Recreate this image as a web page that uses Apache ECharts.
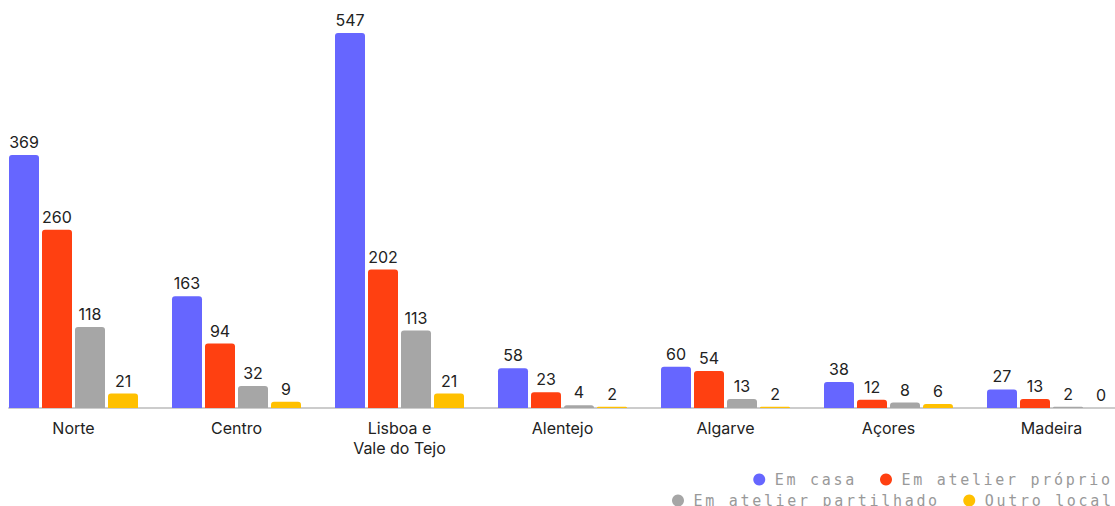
<!DOCTYPE html>
<html>
<head>
<meta charset="utf-8">
<script src="https://cdn.jsdelivr.net/npm/echarts@6/dist/echarts.min.js"></script>
<style>
  html, body { margin: 0; padding: 0; background: #fff; }
  #chart { width: 1115px; height: 506px; }
  #chart svg text[style*="Mono"], #chart svg text[font-family*="Mono"] { letter-spacing: 2.7px; }
</style>
</head>
<body>
<div id="chart"></div>
<script>
const categories = ['Norte', 'Centro', 'Lisboa e\nVale do Tejo', 'Alentejo', 'Algarve', 'Açores', 'Madeira'];
const seriesNames = ['Em casa', 'Em atelier próprio', 'Em atelier partilhado', 'Outro local'];
const emCasa = [369, 163, 547, 58, 60, 38, 27];
const emAtelierProprio = [260, 94, 202, 23, 54, 12, 13];
const emAtelierPartilhado = [118, 32, 113, 4, 13, 8, 2];
const outroLocal = [21, 9, 21, 2, 2, 6, 0];
const colors = ['#6666ff', '#ff4011', '#a6a6a6', '#ffc000'];

const values = [emCasa, emAtelierProprio, emAtelierPartilhado, outroLocal];
const FONT = 'Inter, "Noto Sans", sans-serif';
const MONO = '"DejaVu Sans Mono"';
const CHAR_W = 11.75;

// rich styles giving each legend text its true (letter-spaced) width
const legendRich = {};
seriesNames.forEach(n => {
  legendRich['w' + n.length] = {
    width: n.length * CHAR_W,
    padding: [0, 0, 0, 4.5],
    backgroundColor: 'rgba(255,255,255,0)',
    fontFamily: MONO,
    fontSize: 15,
    color: '#999'
  };
});
const legendBase = {
  orient: 'horizontal',
  icon: 'circle',
  itemWidth: 12,
  itemHeight: 12,
  itemGap: 23,
  padding: 0,
  selectedMode: false,
  formatter: n => '{w' + n.length + '|' + n + '}',
  textStyle: { fontFamily: MONO, fontSize: 15, color: '#999', rich: legendRich }
};

const chart = echarts.init(document.getElementById('chart'), null, { renderer: 'svg' });
chart.setOption({
  animation: false,
  color: colors,
  textStyle: { fontFamily: FONT },
  legend: [
    Object.assign({}, legendBase, { right: 2, top: 472, data: seriesNames.slice(0, 2) }),
    Object.assign({}, legendBase, { right: 1, top: 493, data: seriesNames.slice(2, 4) })
  ],
  grid: [
    { left: -8, right: -18, top: 33, bottom: 98, containLabel: false, outerBoundsMode: 'none' },
    { left: 9, right: 0, top: 33, bottom: 98, containLabel: false, outerBoundsMode: 'none' }
  ],
  xAxis: [
    {
      type: 'category',
      gridIndex: 0,
      data: categories,
      axisLine: { show: false },
      axisTick: { show: false },
      axisLabel: { color: '#222', fontSize: 16, fontFamily: FONT, margin: 10, lineHeight: 20, interval: 0 }
    },
    {
      type: 'category',
      gridIndex: 1,
      data: categories,
      axisLine: { show: true, lineStyle: { color: '#cccccc', width: 2 } },
      axisTick: { show: false },
      axisLabel: { show: false }
    }
  ],
  yAxis: [
    { type: 'value', gridIndex: 0, min: 0, max: 'dataMax', show: false },
    { type: 'value', gridIndex: 1, min: 0, max: 547, show: false }
  ],
  series: seriesNames.map((name, i) => ({
    name: name,
    type: 'bar',
    xAxisIndex: 0,
    yAxisIndex: 0,
    data: values[i],
    barWidth: 30,
    barGap: '10%',
    itemStyle: { color: colors[i], borderRadius: [3, 3, 0, 0] },
    label: {
      show: true,
      position: 'top',
      distance: 5,
      color: '#222',
      fontSize: 16,
      fontFamily: FONT
    }
  }))
});
</script>
</body>
</html>
